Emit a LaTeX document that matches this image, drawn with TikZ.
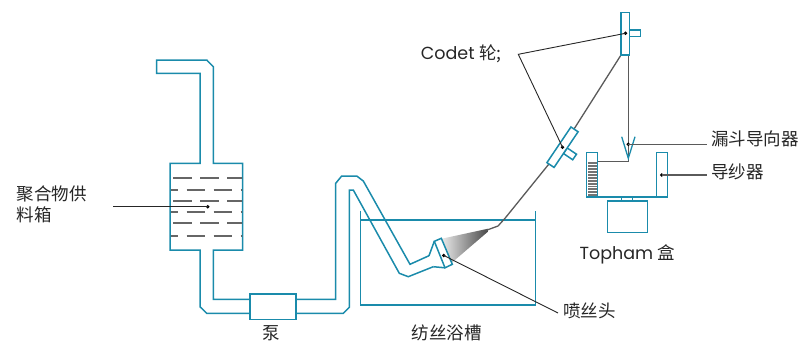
\documentclass[tikz,border=0pt]{standalone}
\usepackage{fontspec}
\setmainfont{Poppins}
\newfontfamily\cjk{Noto Sans CJK SC}
\definecolor{pipeblue}{HTML}{1A8BAB}
\definecolor{fibergray}{HTML}{5A5A5A}
\definecolor{dashgray}{HTML}{666666}
\definecolor{txt}{HTML}{262626}
\begin{document}
\begin{tikzpicture}[x=1pt,y=-1pt,
  pipe/.style={draw=pipeblue, line width=1.5pt, line join=miter},
  fiber/.style={draw=fibergray, line width=1.3pt},
  leader/.style={draw=black!85, line width=0.9pt},
  gleader/.style={draw=fibergray, line width=1.1pt},
  level/.style={draw=dashgray, line width=2pt},
  lbl/.style={text=txt, inner sep=0pt, font=\fontsize{17.5}{21.7}\selectfont},
  dot/.style={circle, fill=black, inner sep=0pt, minimum size=3.8pt}]
\useasboundingbox (0,0) rectangle (802,346);

% ---- polymer feed tank with inlet and outlet pipes ----
\draw[pipe] (250,299.3) -- (213.3,299.3) -- (213.3,250) -- (242.7,250)
  -- (242.7,163.3) -- (213.3,163.3) -- (213.3,66.7) -- (206.7,60)
  -- (156.7,60) -- (156.7,73.3) -- (200,73.3) -- (200,163.3)
  -- (170,163.3) -- (170,250) -- (200,250) -- (200,306.7)
  -- (206.7,313.3) -- (250,313.3);
\begin{scope}
  \clip (171,164) rectangle (242,249);
  \foreach \yy in {178.3,201.3,223.3}
    \draw[level, dash pattern=on 18.3pt off 8.7pt] (173.3,\yy) -- (250,\yy);
  \foreach \yy in {190,212.3,236}
    \draw[level, dash pattern=on 18.3pt off 8.7pt] (159.7,\yy) -- (250,\yy);
\end{scope}

% ---- pump ----
\node[pipe, draw, fill=white, minimum width=46pt, minimum height=25.3pt,
  inner sep=0pt] (pump) at (273,306.7) {};

% ---- riser and dip pipe into the bath ----
\draw[pipe] (296,299.3) -- (335.7,299.3) -- (335.7,183.3) -- (341.7,176)
  -- (356.7,176) -- (363.3,181) -- (410,264.3) -- (429,255.7);
\draw[pipe] (296,313.3) -- (343.3,313.3) -- (349.3,307.3) -- (349.3,190)
  -- (353.3,190) -- (399.3,273.3) -- (408.3,276.7) -- (433.3,266.7);

% ---- spinning bath ----
\draw[pipe] (360.7,210.7) -- (360.7,305) -- (535.7,305) -- (535.7,210.7);
\draw[pipe] (360.7,220) -- (535.7,220);

% ---- spray from the spinneret ----
\shade[left color=black!8, right color=black!72]
  (441.3,238.8) -- (488.5,228.6) -- (488,231.6) -- (452,262.5) -- cycle;

% ---- spinneret ----
\draw[pipe] (429,255.7) -- (434.3,241.3);
\draw[pipe] (433.3,266.7) -- (445,267.8);
\draw[pipe, fill=white] (434.3,241.3) -- (441.3,238.3) -- (452.3,264.3)
  -- (445,267.8) -- cycle;
\node[dot] (jet) at (443.8,255.5) {};

% ---- filament path ----
\coordinate (lowgc) at (562.5,147.2);
\draw[fiber] (486,230.4) -- (498,226) -- (505,218.3) -- (lowgc) -- (621,55);
\draw[fiber] (628.3,55) -- (628.3,161.7) -- (597.7,161.7);

% ---- godet wheels ----
\begin{scope}[shift={(562.5,147.2)}, rotate=-34]
  \draw[pipe, fill=white] (4.3,-2) rectangle (15.5,4.7);
  \draw[pipe, fill=white] (-4.3,-21.5) rectangle (4.3,21.5);
\end{scope}
\node[dot] (lowgodet) at (lowgc) {};
\draw[pipe, fill=white] (629.7,30) rectangle (640.7,36.7);
\draw[pipe, fill=white] (621,12.3) rectangle (629.7,55);
\node[dot] (topgodet) at (625.5,33.3) {};

% ---- funnel guide ----
\draw[pipe, line width=1.3pt] (621.7,136.7) -- (628.3,158.3) -- (635,136.7);
\node[dot] (funnel) at (628.3,144.3) {};

% ---- Topham box ----
\fill[black!55] (587.5,161.7) rectangle (596.9,196.5);
\foreach \yy in {164.5,167.4,...,195}
  \draw[white, line width=0.6pt] (587.5,\yy) -- (596.9,\yy);
\draw[pipe] (586.7,152.3) rectangle (597.7,197);
\draw[pipe] (656.7,152.3) rectangle (667.3,197);
\draw[pipe] (597.7,197) -- (656.7,197);
\draw[pipe] (621.7,197) rectangle (632.7,201);
\draw[pipe] (607.3,201) rectangle (647.3,232.7);
\node[dot] (guide) at (661.7,175) {};

% ---- feed tank marker ----
\node[dot] (feed) at (207.7,206.7) {};

% ---- labels ----
\node[lbl, font=\cjk\fontsize{17.5}{21.7}\selectfont, anchor=west, align=left]
  (feedlbl) at (16.7,204.2) {聚合物供\\料箱};
\node[lbl] (pumplbl) at (271.7,333) {\cjk 泵};
\node[lbl] (bathlbl) at (446.7,333.3) {\cjk 纺丝浴槽};
\node[lbl, anchor=west] (jetlbl) at (563,311) {\cjk 喷丝头};
\node[lbl, anchor=west] (codetlbl) at (420.7,53.3) {Codet {\cjk 轮;}};
\node[lbl, anchor=west] (funnellbl) at (711,139.3) {\cjk 漏斗导向器};
\node[lbl, anchor=west] (guidelbl) at (711,171.7) {\cjk 导纱器};
\node[lbl] (tophamlbl) at (627.5,254) {Topham {\cjk 盒}};

% ---- leader lines ----
\coordinate (feedend) at (113.3,206.7);
\coordinate (codetjoin) at (518.3,54.3);
\coordinate (jetend) at (558,313);
\coordinate (funnelend) at (706.7,144.3);
\coordinate (guideend) at (706.7,175);
\draw[leader] (feedend) -- (feed.center);
\draw[leader] (topgodet.center) -- (codetjoin) -- (lowgodet.center);
\draw[leader] (jet.center) -- (jetend);
\draw[gleader] (funnel.center) -- (funnelend);
\draw[gleader] (guide.center) -- (guideend);
\end{tikzpicture}
\end{document}
